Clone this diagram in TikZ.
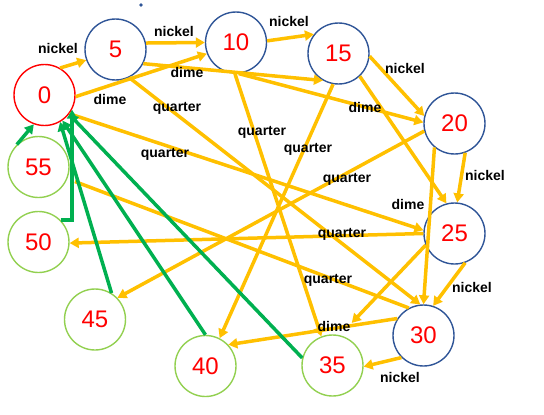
\documentclass[tikz,border=0pt]{standalone}
\usepackage{fontspec}
\setmainfont{Liberation Sans}
\usetikzlibrary{arrows.meta}
\definecolor{gold}{HTML}{FFC000}
\definecolor{grn}{HTML}{00B050}
\definecolor{lgrn}{HTML}{92D050}
\definecolor{stblue}{HTML}{2F5597}
\definecolor{numred}{HTML}{FF0000}
\begin{document}
\begin{tikzpicture}[x=1pt,y=-1pt,
  state/.style={circle,draw=stblue,line width=1.4pt,minimum size=61pt,inner sep=0pt,
    font=\fontsize{24}{24}\selectfont,text=numred},
  start/.style={state,draw=numred},
  sink/.style={state,draw=lgrn},
  lbl/.style={font=\bfseries\fontsize{14}{14}\selectfont,text=black,inner sep=0pt},
  ed/.style={draw=gold,line width=3.5pt,-{Triangle[length=9pt,width=10pt]}},
  back/.style={draw=grn,line width=3.5pt,-{Triangle[length=9pt,width=10pt]}},
  plain/.style={draw=gold,line width=3.5pt}]
\useasboundingbox (0,0) rectangle (544,415);
\node[circle,fill=stblue,inner sep=1.3pt] (dot) at (141,5) {};
% states
\node[start] (n0) at (44.5,95) {0};
\node[state] (n5) at (115.5,49.5) {5};
\node[state] (n10) at (236,42.5) {10};
\node[state] (n15) at (338.5,53.5) {15};
\node[state] (n20) at (454.5,123.5) {20};
\node[state] (n25) at (454.5,233.5) {25};
\node[state] (n30) at (423.5,335.5) {30};
\node[sink] (n35) at (332.5,365.5) {35};
\node[sink] (n40) at (205.5,366) {40};
\node[sink] (n45) at (95,319.5) {45};
\node[sink] (n50) at (38.5,242) {50};
\node[sink] (n55) at (38.5,167) {55};
% yellow edges
\draw[ed] (n0.60) -- (n5.200);
\draw[ed] (n0.-3) -- (n10.201);
\draw[ed] (n0.-37) -- (n25.174);
\draw[ed] (n5.12) -- (n10.180);
\draw[ed] (n5.-27) -- (n15.240);
\draw[ed] (n5.-64) -- (n30.96);
\draw[ed] (n10.3) -- (n15.142);
\draw[ed] (n10.-85) -- (n20.178);
\draw[ed] (n10.-92) -- (n35.111);
\draw[ed] (n15.-5) -- (n20.166);
\draw[ed] (n15.-47) -- (n25.105);
\draw[ed] (n15.-100) -- (n40.63);
\draw[ed] (n20.-70) -- (n25.85);
\draw[ed] (n20.-130) -- (n30.90);
\draw[ed] (n20.194) -- (n45.44);
\draw[ed] (n25.-70) -- (n30.72);
\draw[ed,shorten >=17pt] (n25.202) -- (n35.76);
\draw[ed] (n25.180) -- (n50.-2);
\draw[ed] (n30.-135) -- (n35.-2);
\draw[ed] (n30.147) -- (n40.43);
\draw[plain,shorten >=8pt] (n30.118) -- (n55.-22);
% green edges
\draw[back] (n55.134) -- (n0.-110);
\draw[back] (n50.45) -| (n0.-28);
\draw[back] (n45.58) -- (n0.-60);
\draw[back] (n40.90) -- (n0.-55);
\draw[back] (n35.166) -- (n0.-38);
% labels
\node[lbl] (l1) at (58,48) {nickel};
\node[lbl] (l2) at (174,31) {nickel};
\node[lbl] (l3) at (289,21) {nickel};
\node[lbl] (l4) at (405,68) {nickel};
\node[lbl] (l5) at (485,175) {nickel};
\node[lbl] (l6) at (472,287) {nickel};
\node[lbl] (l7) at (400,377) {nickel};
\node[lbl] (d1) at (110,99) {dime};
\node[lbl] (d2) at (187,72) {dime};
\node[lbl] (d3) at (365,107) {dime};
\node[lbl] (d4) at (408,204) {dime};
\node[lbl] (d5) at (334,326) {dime};
\node[lbl] (q1) at (177,108) {quarter};
\node[lbl] (q2) at (165,154) {quarter};
\node[lbl] (q3) at (262,132) {quarter};
\node[lbl] (q4) at (308,149) {quarter};
\node[lbl] (q5) at (347,179) {quarter};
\node[lbl] (q6) at (342,234) {quarter};
\node[lbl] (q7) at (328,280) {quarter};
\end{tikzpicture}
\end{document}
